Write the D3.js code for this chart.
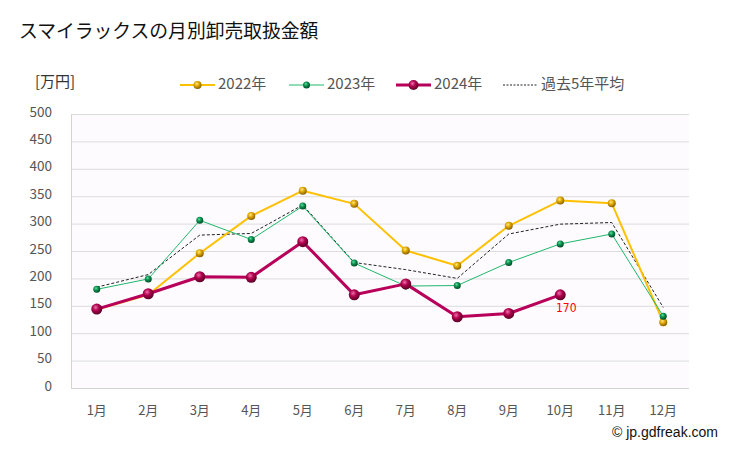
<!DOCTYPE html>
<html><head><meta charset="utf-8">
<script src="https://cdn.jsdelivr.net/npm/d3@7"></script>
<style>body{margin:0;background:#fff;} svg{display:block;}</style>
</head><body>
<script>
const months = ["1月","2月","3月","4月","5月","6月","7月","8月","9月","10月","11月","12月"];
const yTicks = [0,50,100,150,200,250,300,350,400,450,500];
const v2022 = [143,170,246,314,360,336,251,223,296,342,337,120];
const v2023 = [180,199,306,271,332,228,186,187,229,263,281,131];
const v2024 = [144,172,203,202,267,170,190,130,136,170];
const vAvg  = [184,207,279,282,334,229,216,200,281,299,302,147];

(function(){
const W=729,H=450;
const svg=d3.select("body").append("svg").attr("width",W).attr("height",H);
const font="'Noto Sans CJK JP','Noto Sans',sans-serif";
const defs=svg.append("defs");
function grad(id,hi,mid,lo){
  const g=defs.append("radialGradient").attr("id",id).attr("cx","40%").attr("cy","35%").attr("r","65%");
  g.append("stop").attr("offset","0%").attr("stop-color",hi);
  g.append("stop").attr("offset","45%").attr("stop-color",mid);
  g.append("stop").attr("offset","100%").attr("stop-color",lo);
}
grad("g22","#ffe98a","#e0a800","#8a6000");
grad("g23","#5fe09a","#0a9050","#004a25");
grad("g24","#f070a8","#b0004e","#5a0025");

const pL=71,pR=689,pT=114,pB=388;
const x=d3.scaleBand().domain(months).range([pL,pR]);
const y=d3.scaleLinear().domain([0,500]).range([pB,pT]);

svg.append("rect").attr("x",pL).attr("y",pT).attr("width",pR-pL).attr("height",pB-pT).attr("fill","#fdfbfe");
svg.append("g").selectAll("line").data(yTicks.filter(d=>d>0)).join("line")
 .attr("x1",pL).attr("x2",pR).attr("y1",d=>y(d)+0.5).attr("y2",d=>y(d)+0.5)
 .attr("stroke","#dcdcdc").attr("stroke-width",1);
svg.append("line").attr("x1",pL).attr("x2",pR).attr("y1",pB+0.5).attr("y2",pB+0.5).attr("stroke","#d4d4d4");
svg.append("line").attr("x1",pL+0.5).attr("x2",pL+0.5).attr("y1",pT).attr("y2",pB).attr("stroke","#d8d4c8");

svg.append("g").selectAll("text").data(yTicks).join("text")
 .attr("x",52).attr("y",d=>y(d)-1).attr("text-anchor","end").attr("dominant-baseline","middle")
 .attr("font-family",font).attr("font-size",13.5).attr("fill","#555").text(d=>d);
svg.append("g").selectAll("text").data(months).join("text")
 .attr("x",d=>x(d)+x.bandwidth()/2).attr("y",411).attr("text-anchor","middle").attr("dominant-baseline","middle")
 .attr("font-family",font).attr("font-size",13).attr("fill","#555").text(d=>d);

svg.append("text").attr("x",19).attr("y",33).attr("dominant-baseline","middle")
 .attr("font-family",font).attr("font-size",18.8).attr("fill","#111").text("スマイラックスの月別卸売取扱金額");
svg.append("text").attr("x",35).attr("y",83).attr("dominant-baseline","middle")
 .attr("font-family",font).attr("font-size",15).attr("fill","#333").text("[万円]");
svg.append("text").attr("x",718).attr("y",433).attr("text-anchor","end").attr("dominant-baseline","middle")
 .attr("font-family","'Liberation Sans',Arial,sans-serif").attr("font-size",14).attr("fill","#111").text("© jp.gdfreak.com");

const line=d3.line().x((d,i)=>x(months[i])+x.bandwidth()/2).y(d=>y(d));
const series=[
 {name:"2022年",data:v2022,color:"#ffc000",w:2,r:4,g:"g22"},
 {name:"2023年",data:v2023,color:"#20b86a",w:1,r:3.5,g:"g23"},
 {name:"2024年",data:v2024,color:"#b8005a",w:3,r:5.5,g:"g24"}
];
svg.append("path").attr("d",line(vAvg)).attr("fill","none").attr("stroke","#222").attr("stroke-width",1).attr("stroke-dasharray","3,2");
series.forEach(s=>{
  svg.append("path").attr("d",line(s.data)).attr("fill","none").attr("stroke",s.color).attr("stroke-width",s.w).attr("stroke-linejoin","round");
  svg.append("g").selectAll("circle").data(s.data).join("circle")
   .attr("cx",(d,i)=>x(months[i])+x.bandwidth()/2).attr("cy",d=>y(d)).attr("r",s.r).attr("fill",`url(#${s.g})`);
});
const lastI=v2024.length-1;
svg.append("text").attr("x",x(months[lastI])+x.bandwidth()/2+6).attr("y",y(v2024[lastI])+14)
 .attr("text-anchor","middle").attr("dominant-baseline","middle")
 .attr("font-family","'Liberation Sans Narrow','DejaVu Sans Condensed',sans-serif").attr("font-size",12).attr("fill","#ff0000").text(v2024[lastI]);

const leg=[
 {name:"2022年",x1:180,color:"#ffc000",w:2,r:4,g:"g22"},
 {name:"2023年",x1:289,color:"#20b86a",w:1,r:3.5,g:"g23"},
 {name:"2024年",x1:396,color:"#b8005a",w:3,r:5,g:"g24"},
 {name:"過去5年平均",x1:503,color:"#222",w:1,dash:"2,1.5"}
];
leg.forEach(l=>{
  const ly=85;
  svg.append("line").attr("x1",l.x1).attr("x2",l.x1+35).attr("y1",ly).attr("y2",ly).attr("stroke",l.color).attr("stroke-width",l.w).attr("stroke-dasharray",l.dash||null);
  if(l.r) svg.append("circle").attr("cx",l.x1+17.5).attr("cy",ly).attr("r",l.r).attr("fill",`url(#${l.g})`);
  svg.append("text").attr("x",l.x1+38).attr("y",ly).attr("dominant-baseline","middle")
   .attr("font-family",font).attr("font-size",15).attr("fill","#555").text(l.name);
});
})();
</script>
</body></html>
